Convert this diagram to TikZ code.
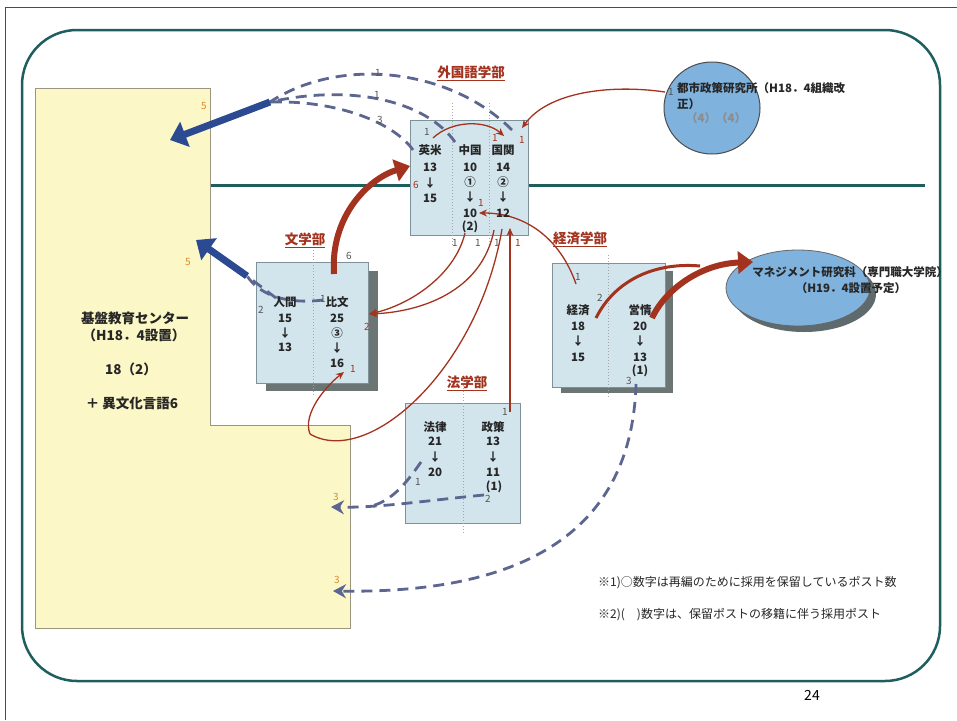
\documentclass[tikz,border=0pt]{standalone}
\usepackage{fontspec}
\setmainfont{Noto Sans CJK JP}
\usetikzlibrary{arrows.meta,shapes.geometric}
\definecolor{teal1}{HTML}{1F5E5E}
\definecolor{boxfill}{HTML}{D2E5EC}
\definecolor{boxedge}{HTML}{7E9098}
\definecolor{shadowc}{HTML}{6B7674}
\definecolor{yel}{HTML}{FBF7C6}
\definecolor{yeledge}{HTML}{9A9480}
\definecolor{redc}{HTML}{A3321E}
\definecolor{navy}{HTML}{2B4A92}
\definecolor{dashc}{HTML}{5D6690}
\definecolor{orangec}{HTML}{D98A2B}
\definecolor{ellc}{HTML}{80B2DE}
\definecolor{ellshadow}{HTML}{5E6A6C}
\definecolor{gtxt}{HTML}{555555}
\begin{document}
\begin{tikzpicture}[x=1pt,y=-1pt,
  box/.style={draw=boxedge, fill=boxfill, line width=0.8pt, inner sep=0pt, anchor=north west},
  divider/.style={draw=gray!70, line width=1pt, dotted},
  txt/.style={font=\fontsize{11.5}{13}\selectfont\bfseries, text=black!85, inner sep=0pt},
  ytxt/.style={font=\fontsize{13.5}{15}\selectfont\bfseries, text=black!85, inner sep=0pt},
  ttl/.style={font=\fontsize{13.5}{15}\selectfont\bfseries, text=redc, inner sep=0pt},
  lbl/.style={font=\fontsize{10}{11}\selectfont, text=gtxt, inner sep=0pt},
  rlbl/.style={lbl, text=redc},
  olbl/.style={lbl, text=orangec},
  note/.style={font=\fontsize{12}{14}\selectfont, text=black!85, inner sep=0pt, anchor=west},
  etxt/.style={font=\fontsize{11.5}{13}\selectfont\bfseries, text=black!85, inner sep=0pt},
  thinred/.style={draw=redc, line width=1.3pt, -{Stealth[length=8pt,width=7pt]}},
  thinline/.style={draw=redc, line width=1.3pt},
  thickred/.style={draw=redc, line width=6pt, -{Triangle[length=15pt,width=22pt]}},
  midred/.style={draw=redc, line width=3pt},
  bignavy/.style={draw=navy, line width=7pt, -{Triangle[length=16pt,width=26pt]}},
  dashl/.style={draw=dashc, line width=2.8pt, dash pattern=on 11pt off 7pt},
  dasharr/.style={dashl, -{Stealth[length=13pt,width=14pt]}}
]
\useasboundingbox (0,0) rectangle (957,720);
\fill[white] (0,0) rectangle (957,720);
% frames
\draw[gray!60!black, line width=1pt] (5,720) -- (5,7) -- (957,7);
\draw[teal1, line width=2.5pt, rounded corners=55pt] (22,30) rectangle (940,681);
\draw[teal1, line width=3pt] (210,185) -- (925,185);
% yellow region
\filldraw[fill=yel, draw=yeledge, line width=0.8pt] (35,88) -- (210,88) -- (210,425) -- (350,425) -- (350,628) -- (35,628) -- cycle;
\node[ytxt] (kiban1) at (135,318) {基盤教育センター};
\node[ytxt] (kiban2) at (134,335) {（H18．4設置）};
\node[ytxt] (kiban3) at (131,369) {18（2）};
\node[ytxt] (kiban4) at (132,403) {＋ 異文化言語6};

% ellipses
\node[ellipse, draw=black!70, line width=1pt, fill=ellc, minimum width=96pt, minimum height=92pt] (toshi) at (712,108) {};
\fill[ellshadow] (804,294) ellipse [x radius=72, y radius=38];
\node[ellipse, draw=black!60, line width=0.8pt, fill=ellc, minimum width=144pt, minimum height=76pt] (mgmt) at (798,288) {};

% boxes
\node[box, minimum width=118pt, minimum height=115pt] (gk) at (410,120) {};
\draw[divider] (452,103) -- (452,245);
\draw[divider] (489,103) -- (489,245);
\fill[shadowc] (266,271) rectangle (378,391);
\node[box, minimum width=112pt, minimum height=121pt] (bun) at (256,262) {};
\draw[divider] (313,250) -- (313,395);
\fill[shadowc] (561,271) rectangle (673,393);
\node[box, minimum width=113pt, minimum height=124pt] (kei) at (552,263) {};
\draw[divider] (608,255) -- (608,397);
\node[box, minimum width=115pt, minimum height=120pt] (hou) at (405,403) {};
\draw[divider] (463,385) -- (463,533);

% titles
\node[ttl] (gkT) at (471,73) {\underline{外国語学部}};
\node[ttl] (bunT) at (305,240) {\underline{文学部}};
\node[ttl] (keiT) at (580,239) {\underline{経済学部}};
\node[ttl] (houT) at (467,383) {\underline{法学部}};

% coordinates for connectors
\coordinate (ntail) at (270,102);
\coordinate (ntip) at (170,140);
\coordinate (gkA) at (512,130);
\coordinate (gkB) at (455,142);
\coordinate (gkC) at (413,150);
\coordinate (btail) at (247,276);
\coordinate (btip) at (196,240);
\coordinate (hmA) at (276,298);
\coordinate (hkA) at (323,300);
\coordinate (sakuA) at (484,495);
\coordinate (houA) at (421,462);
\coordinate (houJ) at (372,506);
\coordinate (houTip) at (331,507);
\coordinate (eiA) at (636,384);
\coordinate (eiTip) at (333,591);
\coordinate (hkTop) at (334,274);
\coordinate (ebTip) at (410,166);
\coordinate (eiB) at (652,318);
\coordinate (mgTip) at (753,262);
\coordinate (keiB) at (596,318);
\coordinate (keiJ) at (700,266);
\coordinate (toshiA) at (665,92);
\coordinate (gkR) at (522,128);
\coordinate (arcA) at (433,138);
\coordinate (arcB) at (504,136);
\coordinate (keiA) at (576,284);
\coordinate (cnR10) at (479,213);
\coordinate (cnB) at (465,233);
\coordinate (gnB) at (494,230);
\coordinate (hkR) at (369,314);
\coordinate (gnC) at (502,229);
\coordinate (loop) at (310,434);
\coordinate (hk16) at (344,372);
\coordinate (sakuTop) at (510,412);
\coordinate (gnD) at (510,228);

% navy connectors
\draw[dashl] (gkA) .. controls (450,68) and (340,56) .. (ntail);
\draw[dashl] (gkB) .. controls (425,100) and (350,84) .. (ntail);
\draw[dashl] (gkC) .. controls (395,124) and (340,100) .. (ntail);
\draw[bignavy] (ntail) -- (ntip);
\draw[dashl] (hmA) -- (btail);
\draw[dashl] (hkA) .. controls (292,304) and (262,298) .. (btail);
\draw[bignavy] (btail) -- (btip);
\draw[dashl] (houA) .. controls (405,485) and (392,500) .. (houJ);
\draw[dasharr] (sakuA) .. controls (430,500) and (380,508) .. (houTip);
\draw[dasharr] (eiA) .. controls (632,520) and (540,594) .. (eiTip);

% red connectors
\draw[thickred] (hkTop) .. controls (330,215) and (370,178) .. (ebTip);
\draw[midred] (keiB) .. controls (615,280) and (655,262) .. (keiJ);
\draw[thickred] (eiB) .. controls (665,290) and (700,264) .. (mgTip);
\draw[thinred] (toshiA) .. controls (610,84) and (548,92) .. (gkR);
\draw[thinred] (arcA) .. controls (452,120) and (486,120) .. (arcB);
\draw[thinred] (keiA) .. controls (560,238) and (525,213) .. (cnR10);
\draw[thinred] (cnB) .. controls (455,275) and (410,305) .. (hkR);
\draw[thinred] (gnB) .. controls (482,292) and (420,312) .. (hkR);
\draw[thinline] (gnC) .. controls (478,370) and (368,468) .. (loop);
\draw[thinred] (loop) .. controls (302,414) and (326,386) .. (hk16);
\draw[thinred] (sakuTop) -- (gnD);

% box texts: 外国語学部
\node[txt] (eb1) at (430,150) {英米};
\node[txt] (eb2) at (430,167) {13};
\node[txt] (eb3) at (430,183) {↓};
\node[txt] (eb4) at (430,198) {15};
\node[txt] (cn1) at (470,150) {中国};
\node[txt] (cn2) at (470,167) {10};
\node[txt] (cn3) at (470,182) {①};
\node[txt] (cn4) at (470,197) {↓};
\node[txt] (cn5) at (470,213) {10};
\node[txt] (cn6) at (470,227) {(2)};
\node[txt] (gn1) at (503,150) {国関};
\node[txt] (gn2) at (503,167) {14};
\node[txt] (gn3) at (503,182) {②};
\node[txt] (gn4) at (503,197) {↓};
\node[txt] (gn5) at (503,213) {12};
% 文学部
\node[txt] (hm1) at (285,302) {人間};
\node[txt] (hm2) at (285,318) {15};
\node[txt] (hm3) at (285,333) {↓};
\node[txt] (hm4) at (285,347) {13};
\node[txt] (hk1) at (337,302) {比文};
\node[txt] (hk2) at (337,318) {25};
\node[txt] (hk3) at (337,333) {③};
\node[txt] (hk4) at (337,348) {↓};
\node[txt] (hk5) at (337,363) {16};
% 経済学部
\node[txt] (kz1) at (578,310) {経済};
\node[txt] (kz2) at (578,326) {18};
\node[txt] (kz3) at (578,341) {↓};
\node[txt] (kz4) at (578,357) {15};
\node[txt] (ej1) at (640,310) {営情};
\node[txt] (ej2) at (640,326) {20};
\node[txt] (ej3) at (640,341) {↓};
\node[txt] (ej4) at (640,357) {13};
\node[txt] (ej5) at (640,371) {(1)};
% 法学部
\node[txt] (hr1) at (435,427) {法律};
\node[txt] (hr2) at (435,441) {21};
\node[txt] (hr3) at (435,457) {↓};
\node[txt] (hr4) at (435,472) {20};
\node[txt] (sk1) at (493,427) {政策};
\node[txt] (sk2) at (493,441) {13};
\node[txt] (sk3) at (493,457) {↓};
\node[txt] (sk4) at (493,472) {11};
\node[txt] (sk5) at (494,487) {(1)};

% small labels
\node[olbl] (l5a) at (204,106) {5};
\node[olbl] (l5b) at (188,262) {5};
\node[olbl] (l3a) at (336,497) {3};
\node[olbl] (l3b) at (337,580) {3};
\node[lbl] (la1) at (378,73) {1};
\node[lbl] (la2) at (377,95) {1};
\node[lbl] (la3) at (380,120) {3};
\node[lbl] (lg1) at (427,132) {1};
\node[rlbl] (lg2) at (495,138) {1};
\node[rlbl] (lg3) at (522,140) {1};
\node[rlbl] (lg4) at (481,203) {1};
\node[rlbl] (lg6) at (416,185) {6};
\node[lbl] (lb1) at (455,243) {1};
\node[lbl] (lb2) at (478,243) {1};
\node[lbl] (lb3) at (497,243) {1};
\node[rlbl] (lb4) at (518,243) {1};
\node[lbl] (lw1) at (261,310) {2};
\node[lbl] (lw2) at (349,256) {6};
\node[lbl] (lw3) at (323,299) {1};
\node[rlbl] (lw4) at (367,327) {2};
\node[rlbl] (lw5) at (353,369) {1};
\node[lbl] (lk1) at (578,277) {1};
\node[lbl] (lk2) at (600,298) {2};
\node[lbl] (lk3) at (629,381) {3};
\node[lbl] (lh1) at (505,412) {1};
\node[lbl] (lh2) at (418,482) {1};
\node[lbl] (lh3) at (488,499) {2};
\node[lbl] (lt1) at (671,92) {1};

% ellipse texts
\node[etxt, anchor=west] (toshiT1) at (677,88) {都市政策研究所（H18．4組織改};
\node[etxt, anchor=west] (toshiT2) at (677,104) {正）};
\node[etxt, anchor=west, text=black!45] (toshiT3) at (686,118) {（4）（4）};
\node[etxt] (mgT1) at (850,272) {マネジメント研究科（専門職大学院）};
\node[etxt] (mgT2) at (851,288) {（H19．4設置予定）};

% notes
\node[note] (n1) at (598,583) {※1)○数字は再編のために採用を保留しているポスト数};
\node[note] (n2) at (598,615) {※2)(\hspace{1em})数字は、保留ポストの移籍に伴う採用ポスト};
\node[font=\fontsize{14}{16}\selectfont, inner sep=0pt] (pg) at (812,695) {24};
\end{tikzpicture}
\end{document}
